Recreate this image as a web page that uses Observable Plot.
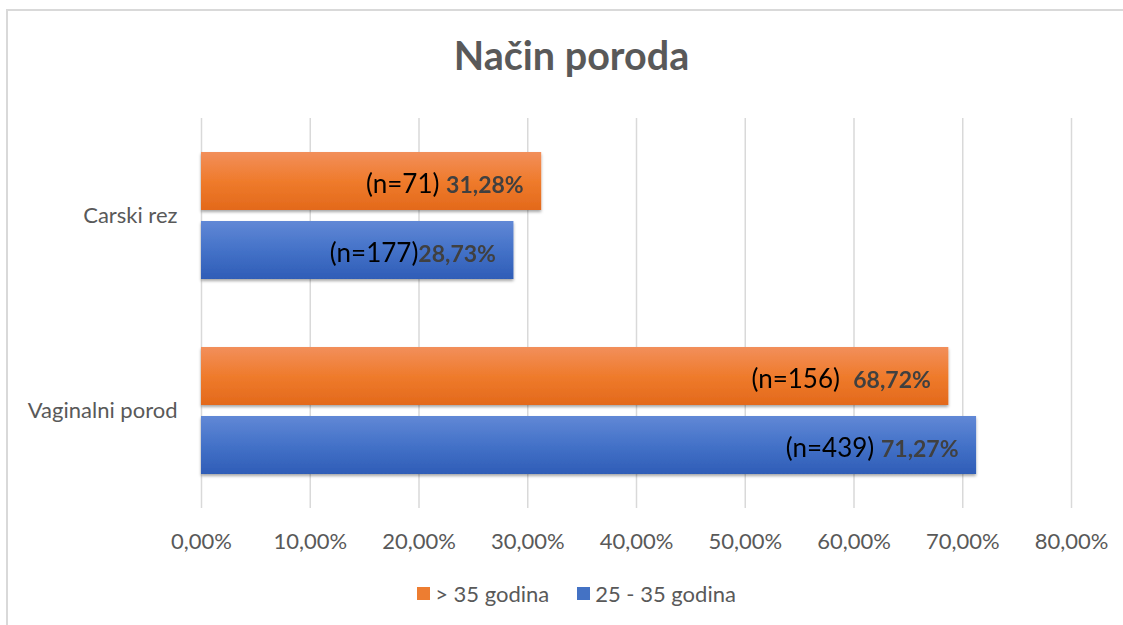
<!DOCTYPE html>
<html>
<head>
<meta charset="utf-8">
<script src="https://cdn.jsdelivr.net/npm/d3@7"></script>
<script src="https://cdn.jsdelivr.net/npm/@observablehq/plot@0.6"></script>
<style>
  html, body { margin: 0; padding: 0; background: #fff; }
  #wrap { position: relative; width: 1123px; height: 625px; overflow: hidden; font-family: Lato, "Open Sans", sans-serif; }
  #frame { position: absolute; left: 6px; top: 9px; width: 1300px; height: 800px; border: 2px solid #d9d9d9; box-sizing: border-box; }
  #title { position: absolute; left: 10px; width: 1123px; top: 30px; text-align: center; font-size: 39.5px; font-weight: bold; color: #595959; line-height: 50px; }
  #chart { position: absolute; left: 0; top: 110px; }
  #legend { position: absolute; left: 15px; top: 580px; width: 1123px; display: flex; justify-content: center; font-size: 22px; color: #595959; }
  .item { display: flex; align-items: center; margin: 0 14px; }
  .sw { width: 13px; height: 13px; margin-right: 5px; }
</style>
</head>
<body>
<div id="wrap">
  <div id="frame"></div>
  <div id="title">Način poroda</div>
  <div id="chart"></div>
  <div id="legend"></div>
</div>
<script>
// ---- data ----
const categories = ["Carski rez", "Vaginalni porod"];
const series = ["> 35 godina", "25 - 35 godina"];
const olderValues = [31.28, 68.72];
const youngerValues = [28.73, 71.27];
const olderN = ["(n=71) ", "(n=156)  "];
const youngerN = ["(n=177)", "(n=439) "];
const xTicks = [0, 10, 20, 30, 40, 50, 60, 70, 80];
const seriesColors = ["#ed7d31", "#4472c4"];

const fmtPct = v => v.toFixed(2).replace(".", ",") + "%";

const rows = [];
categories.forEach((c, i) => {
  rows.push({category: c, series: series[0], value: olderValues[i], nLabel: olderN[i]});
  rows.push({category: c, series: series[1], value: youngerValues[i], nLabel: youngerN[i]});
});
const older = rows.filter(d => d.series === series[0]);
const younger = rows.filter(d => d.series === series[1]);

const plot = Plot.plot({
  width: 1123,
  height: 455,
  marginLeft: 201,
  marginRight: 52,
  marginTop: 7,
  marginBottom: 57,
  style: {fontFamily: "Lato, 'Open Sans', sans-serif", fontSize: "22px", color: "#595959", background: "transparent"},
  x: {domain: [0, 80], ticks: xTicks, tickFormat: d => fmtPct(d), tickSize: 0, tickPadding: 25, label: null},
  fy: {domain: categories, padding: 0, axis: "left", tickSize: 0, tickPadding: 24, label: null},
  y: {domain: series, paddingInner: 0.157, paddingOuter: 0.475, axis: null},
  facet: {data: rows, y: "category"},
  marks: [
    Plot.ruleX(xTicks, {stroke: "#d9d9d9", strokeWidth: 1.5, strokeOpacity: 1}),
    Plot.barX(older, {x: "value", y: "series", fy: "category", fill: "url(#gOrange)", ariaDescription: "bars"}),
    Plot.barX(younger, {x: "value", y: "series", fy: "category", fill: "url(#gBlue)", ariaDescription: "bars"}),
    Plot.text(rows, {x: "value", y: "series", fy: "category", text: d => d.nLabel + "|" + fmtPct(d.value), textAnchor: "end", dx: -18, dy: 3, fontSize: 26, fill: "black", ariaDescription: "bar-labels"})
  ]
});

// gradients & shadow
const ns = "http://www.w3.org/2000/svg";
const defs = document.createElementNS(ns, "defs");
defs.innerHTML = `
  <linearGradient id="gOrange" x1="0" y1="0" x2="0" y2="1">
    <stop offset="0" stop-color="#f28f5b"/>
    <stop offset="0.5" stop-color="#ef7b2c"/>
    <stop offset="1" stop-color="#e3691b"/>
  </linearGradient>
  <linearGradient id="gBlue" x1="0" y1="0" x2="0" y2="1">
    <stop offset="0" stop-color="#6188d6"/>
    <stop offset="0.5" stop-color="#4472c8"/>
    <stop offset="1" stop-color="#2f5db7"/>
  </linearGradient>
  <filter id="shadow" x="-5%" y="-20%" width="110%" height="150%">
    <feDropShadow dx="0" dy="2" stdDeviation="1.5" flood-color="#000" flood-opacity="0.35"/>
  </filter>`;
plot.insertBefore(defs, plot.firstChild);
plot.querySelectorAll('[aria-description="bars"]').forEach(g => g.setAttribute("filter", "url(#shadow)"));
plot.querySelectorAll('[aria-description="bar-labels"] text').forEach(t => {
  const [a, b] = t.textContent.split("|");
  t.textContent = "";
  t.style.whiteSpace = "pre";
  const s1 = document.createElementNS(ns, "tspan");
  s1.textContent = a;
  const s2 = document.createElementNS(ns, "tspan");
  s2.textContent = b;
  s2.setAttribute("font-weight", "bold");
  s2.setAttribute("font-size", "23");
  s2.setAttribute("fill", "#404040");
  t.appendChild(s1); t.appendChild(s2);
});
document.getElementById("chart").appendChild(plot);

// legend
const legend = document.getElementById("legend");
series.forEach((s, i) => {
  const item = document.createElement("div");
  item.className = "item";
  const sw = document.createElement("div");
  sw.className = "sw";
  sw.style.background = seriesColors[i];
  const tx = document.createElement("span");
  tx.textContent = s;
  item.appendChild(sw); item.appendChild(tx);
  legend.appendChild(item);
});
</script>
</body>
</html>
